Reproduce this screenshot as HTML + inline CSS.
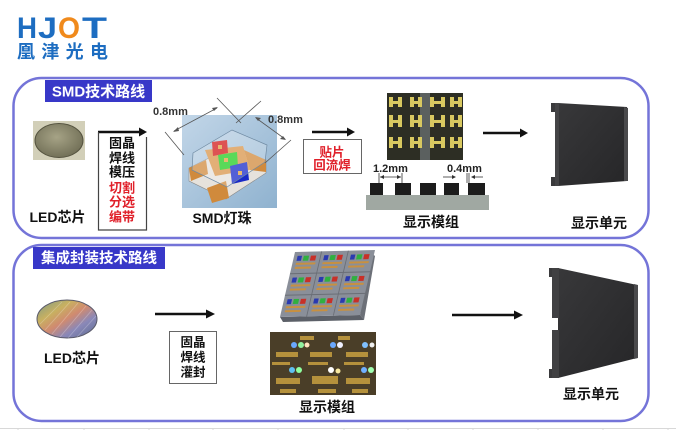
<!DOCTYPE html>
<html><head><meta charset="utf-8"><style>
html,body{margin:0;padding:0;background:#fff;width:676px;height:430px;overflow:hidden}
svg{display:block}
text{font-family:"Liberation Sans","Noto Sans CJK SC",sans-serif}
</style></head><body>
<svg width="676" height="430" viewBox="0 0 676 430" xmlns="http://www.w3.org/2000/svg">
<defs>
<linearGradient id="bg1" x1="0" y1="0" x2="1" y2="1"><stop offset="0" stop-color="#c2d6e8"/><stop offset="1" stop-color="#8fb2cf"/></linearGradient>
<radialGradient id="waf1" cx="0.45" cy="0.4" r="0.7"><stop offset="0" stop-color="#a6a386"/><stop offset="1" stop-color="#6a6850"/></radialGradient>
<linearGradient id="waf2" x1="0" y1="0" x2="1" y2="1"><stop offset="0" stop-color="#7a9a8a"/><stop offset="0.3" stop-color="#c8b060"/><stop offset="0.5" stop-color="#d08a70"/><stop offset="0.7" stop-color="#8a88b8"/><stop offset="1" stop-color="#5a6a90"/></linearGradient>
<linearGradient id="panel" x1="0" y1="0" x2="1" y2="1"><stop offset="0" stop-color="#38383a"/><stop offset="1" stop-color="#262628"/></linearGradient>
</defs>

<!-- Logo -->
<text x="17" y="38" font-size="30" font-weight="bold" fill="#1d6dc1" textLength="20" lengthAdjust="spacingAndGlyphs">H</text>
<text x="38" y="38" font-size="30" font-weight="bold" fill="#1d6dc1" textLength="19" lengthAdjust="spacingAndGlyphs">J</text>
<text x="58" y="38" font-size="30" font-weight="bold" fill="#f08a1c" textLength="22" lengthAdjust="spacingAndGlyphs">O</text>
<text x="82" y="38" font-size="30" font-weight="bold" fill="#1d6dc1" textLength="25" lengthAdjust="spacingAndGlyphs">T</text>
<text x="17" y="58" font-size="18" font-weight="bold" fill="#1d6dc1" textLength="91" lengthAdjust="spacing">凰津光电</text>

<!-- Top box -->
<rect x="13.5" y="78" width="635" height="160" rx="28" fill="none" stroke="#7474d8" stroke-width="2.5"/>
<rect x="45" y="80" width="107" height="22" fill="#3838c8"/>
<text x="98.5" y="96.5" font-size="15" font-weight="bold" fill="#fff" text-anchor="middle">SMD技术路线</text>

<!-- wafer top -->
<rect x="33" y="121" width="52" height="39" fill="#d2cfb8"/>
<ellipse cx="59" cy="140.5" rx="24" ry="17" fill="url(#waf1)" stroke="#55533f" stroke-width="1"/>
<text x="57.5" y="222" font-size="14" font-weight="bold" fill="#111" text-anchor="middle">LED芯片</text>

<!-- arrow + process box -->
<line x1="98" y1="132" x2="140" y2="132" stroke="#111" stroke-width="2.5"/>
<polygon points="139,127.5 147,132 139,136.5" fill="#111"/>
<path d="M98.5,132 V230 H146.5 V137" fill="none" stroke="#444" stroke-width="1.2"/>
<g font-size="13" font-weight="bold" text-anchor="middle">
<text x="122" y="147.5" fill="#111">固晶</text>
<text x="122" y="162.5" fill="#111">焊线</text>
<text x="122" y="176.5" fill="#111">模压</text>
<text x="122" y="192.5" fill="#e0202a">切割</text>
<text x="122" y="206.5" fill="#e0202a">分选</text>
<text x="122" y="221.5" fill="#e0202a">编带</text>
</g>

<!-- SMD bead -->
<rect x="182" y="115" width="95" height="93" fill="url(#bg1)"/>
<polygon points="189,168 229,148 266,160 266,173 226,199 189,181" fill="#e6e2dc" stroke="#8a8a8a" stroke-width="0.6"/>
<polygon points="189,168 206,160 208,174 191,181" fill="#d08a3c"/>
<polygon points="207,188 226,181 229,198 212,203" fill="#d08a3c"/>
<polygon points="244,150 266,160 266,172 250,170" fill="#d08a3c"/>
<polygon points="205,150 243,146 250,170 215,176" fill="#d8954a"/>
<polygon points="212,142 227,140 228,153 213,156" fill="#d21a1a"/>
<polygon points="218,155 237,152 238,167 220,170" fill="#22cc22"/>
<polygon points="230,166 247,162 249,180 232,184" fill="#1a2ac8"/>
<rect x="218" y="145" width="4" height="4" fill="#e0a040"/>
<rect x="224" y="158" width="4" height="4" fill="#e0a040"/>
<rect x="238" y="171" width="4" height="4" fill="#e0a040"/>
<polygon points="193,153 232,130 267,145 265,162 227,187 192,170" fill="#ffffff" fill-opacity="0.25" stroke="#6f8aa2" stroke-width="0.7"/>
<g stroke="#555" stroke-width="0.8" fill="none">
<line x1="165" y1="132" x2="184" y2="155"/>
<line x1="217" y1="98" x2="241" y2="123"/>
<line x1="261" y1="101" x2="236" y2="123"/>
<line x1="291" y1="140" x2="265" y2="163"/>
<line x1="174" y1="131" x2="217" y2="108"/>
<line x1="256" y1="118" x2="285" y2="139"/>
</g>
<polygon points="173,132 178,127 179,131" fill="#555"/>
<polygon points="218,107 212,108 214,111" fill="#555"/>
<polygon points="255,117 261,118 258,121" fill="#555"/>
<polygon points="286,140 280,139 283,136" fill="#555"/>
<text x="153" y="115" font-size="11" font-weight="bold" fill="#333">0.8mm</text>
<text x="268" y="123" font-size="11" font-weight="bold" fill="#333">0.8mm</text>
<text x="222" y="223" font-size="14" font-weight="bold" fill="#111" text-anchor="middle">SMD灯珠</text>

<!-- arrow 2 + box -->
<line x1="312" y1="132" x2="348" y2="132" stroke="#111" stroke-width="2.5"/>
<polygon points="347,127.5 355,132 347,136.5" fill="#111"/>
<rect x="303.5" y="139.5" width="58" height="34" fill="#fff" stroke="#666" stroke-width="1"/>
<text x="332" y="156.5" font-size="12.5" font-weight="bold" fill="#e0202a" text-anchor="middle">贴片</text>
<text x="332" y="169.5" font-size="12.5" font-weight="bold" fill="#e0202a" text-anchor="middle">回流焊</text>

<!-- module photo top -->
<rect x="387" y="93" width="76" height="67" fill="#2d2e24"/>
<rect x="420" y="93" width="10" height="67" fill="#8a929a" fill-opacity="0.5"/>
<g fill="#d8c860">
<path d="M389,97h4v10h-4z M398,97h4v10h-4z M389,101h13v3h-13z"/>
<path d="M410,97h4v10h-4z M418,97h4v10h-4z M410,101h12v3h-12z"/>
<path d="M430,97h4v10h-4z M441,97h4v10h-4z M430,101h15v3h-15z"/>
<path d="M450,97h4v10h-4z M458,97h4v10h-4z M450,101h12v3h-12z"/>
<path d="M389,115h4v12h-4z M398,115h4v12h-4z M389,120h13v3h-13z"/>
<path d="M410,115h4v12h-4z M418,115h4v12h-4z M410,120h12v3h-12z"/>
<path d="M430,115h4v12h-4z M441,115h4v12h-4z M430,120h15v3h-15z"/>
<path d="M450,115h4v12h-4z M458,115h4v12h-4z M450,120h12v3h-12z"/>
<path d="M389,137h4v11h-4z M398,137h4v11h-4z M389,141h13v3h-13z"/>
<path d="M410,137h4v11h-4z M418,137h4v11h-4z M410,141h12v3h-12z"/>
<path d="M430,137h4v11h-4z M441,137h4v11h-4z M430,141h15v3h-15z"/>
<path d="M450,137h4v11h-4z M458,137h4v11h-4z M450,141h12v3h-12z"/>
</g>
<text x="373" y="172" font-size="11" font-weight="bold" fill="#222">1.2mm</text>
<text x="447" y="172" font-size="11" font-weight="bold" fill="#222">0.4mm</text>
<g stroke="#333" stroke-width="0.8">
<line x1="379" y1="173" x2="379" y2="183"/><line x1="402" y1="173" x2="402" y2="183"/>
<line x1="380" y1="177" x2="401" y2="177"/>
<line x1="443" y1="177" x2="455" y2="177"/>
<line x1="467" y1="173" x2="467" y2="183"/><line x1="469" y1="173" x2="469" y2="183"/>
<line x1="472" y1="177" x2="483" y2="177"/>
</g>
<polygon points="380,177 384,175 384,179" fill="#333"/>
<polygon points="401,177 397,175 397,179" fill="#333"/>
<polygon points="456,177 452,175 452,179" fill="#333"/>
<polygon points="471,177 475,175 475,179" fill="#333"/>
<g fill="#1c1c1c">
<rect x="370" y="183" width="13" height="12"/>
<rect x="395" y="183" width="16" height="12"/>
<rect x="420" y="183" width="16" height="12"/>
<rect x="444" y="183" width="15" height="12"/>
<rect x="468" y="183" width="17" height="12"/>
</g>
<rect x="366" y="195" width="123" height="15" fill="#a0a8a2"/>
<text x="431" y="227" font-size="14" font-weight="bold" fill="#111" text-anchor="middle">显示模组</text>

<!-- arrow 3 -->
<line x1="483" y1="133" x2="521" y2="133" stroke="#111" stroke-width="2.5"/>
<polygon points="520,128.5 528,133 520,137.5" fill="#111"/>

<!-- display unit top -->
<polygon points="558,103 627,107 627,181 558,186" fill="url(#panel)"/>
<polygon points="624,107 628,108 628,181 624,181" fill="#4a4a4c"/>
<rect x="551" y="103" width="8" height="9" fill="#3a3a3c"/>
<rect x="551" y="177" width="8" height="9" fill="#3a3a3c"/>
<rect x="555" y="103" width="4" height="83" fill="#444446"/>
<text x="599" y="228" font-size="14" font-weight="bold" fill="#111" text-anchor="middle">显示单元</text>

<!-- Bottom box -->
<rect x="13.5" y="245" width="635" height="176" rx="28" fill="none" stroke="#7474d8" stroke-width="2.5"/>
<rect x="33" y="247" width="132" height="22" fill="#3838c8"/>
<text x="99" y="263" font-size="14.5" font-weight="bold" fill="#fff" text-anchor="middle">集成封装技术路线</text>

<!-- wafer bottom -->
<ellipse cx="67" cy="319" rx="30" ry="19" fill="url(#waf2)" stroke="#5a5a6a" stroke-width="1"/>
<g stroke="#ffffff" stroke-opacity="0.25" stroke-width="0.8">
<line x1="45" y1="330" x2="70" y2="302"/><line x1="52" y1="334" x2="78" y2="303"/>
<line x1="60" y1="337" x2="86" y2="306"/><line x1="68" y1="338" x2="92" y2="310"/>
<line x1="40" y1="324" x2="62" y2="302"/><line x1="77" y1="337" x2="96" y2="316"/>
</g>
<text x="72" y="363" font-size="14" font-weight="bold" fill="#111" text-anchor="middle">LED芯片</text>

<!-- arrow + box bottom -->
<line x1="155" y1="314" x2="207" y2="314" stroke="#111" stroke-width="2.5"/>
<polygon points="206,309.5 215,314 206,318.5" fill="#111"/>
<rect x="169.5" y="331.5" width="47" height="52" fill="#fff" stroke="#666" stroke-width="1"/>
<g font-size="12.5" font-weight="bold" fill="#111" text-anchor="middle">
<text x="193" y="346.5">固晶</text>
<text x="193" y="361.5">焊线</text>
<text x="193" y="376.5">灌封</text>
</g>

<!-- 3D module -->
<polygon points="370,252 375,256 364,320 360,315" fill="#6c7078"/>
<polygon points="280,317 360,315 364,320 283,322" fill="#5c6068"/>
<g transform="matrix(0.889 -0.022 -0.231 1 295 252)">
<rect x="0" y="0" width="90" height="65" fill="#8a8f99"/>
<g stroke="#6a6e76" stroke-width="1"><line x1="30" y1="0" x2="30" y2="65"/><line x1="60" y1="0" x2="60" y2="65"/><line x1="0" y1="21.7" x2="90" y2="21.7"/><line x1="0" y1="43.3" x2="90" y2="43.3"/></g>
<g id="cell">
<rect x="4" y="4" width="5" height="5" fill="#2a3ab0"/><rect x="11" y="4" width="6" height="5" fill="#30b040"/><rect x="19" y="4" width="6" height="5" fill="#c83028"/>
<rect x="4" y="11" width="22" height="2" fill="#c89040"/><rect x="4" y="15" width="18" height="2" fill="#c89040"/>
</g>
<use href="#cell" x="30"/><use href="#cell" x="60"/>
<use href="#cell" y="21.7"/><use href="#cell" x="30" y="21.7"/><use href="#cell" x="60" y="21.7"/>
<use href="#cell" y="43.3"/><use href="#cell" x="30" y="43.3"/><use href="#cell" x="60" y="43.3"/>
</g>

<!-- module photo bottom -->
<rect x="270" y="332" width="106" height="63" fill="#4a3e28"/>
<g fill="#c8a040" fill-opacity="0.85">
<rect x="276" y="352" width="22" height="5"/><rect x="310" y="352" width="22" height="5"/><rect x="346" y="352" width="22" height="5"/>
<rect x="276" y="378" width="24" height="6"/><rect x="312" y="376" width="26" height="8"/><rect x="346" y="378" width="24" height="6"/>
<rect x="280" y="389" width="16" height="4"/><rect x="318" y="389" width="18" height="4"/><rect x="352" y="389" width="16" height="4"/>
<rect x="300" y="336" width="14" height="4"/><rect x="338" y="336" width="12" height="4"/>
<rect x="272" y="362" width="18" height="3"/><rect x="308" y="362" width="20" height="3"/><rect x="344" y="362" width="20" height="3"/>
</g>
<g>
<circle cx="294" cy="345" r="3" fill="#6aa8ff"/><circle cx="301" cy="345" r="3" fill="#90f0a0"/><circle cx="307" cy="345" r="2.5" fill="#ffe0c0"/>
<circle cx="333" cy="345" r="3" fill="#6aa8ff"/><circle cx="340" cy="345" r="3" fill="#f0f0ff"/>
<circle cx="365" cy="345" r="3" fill="#80c0ff"/><circle cx="372" cy="345" r="2.5" fill="#f0f0f0"/>
<circle cx="292" cy="370" r="3" fill="#60c0f0"/><circle cx="299" cy="370" r="3" fill="#90ffa0"/>
<circle cx="331" cy="370" r="3" fill="#ffffff"/><circle cx="338" cy="371" r="2.5" fill="#f8e8a0"/>
<circle cx="364" cy="370" r="3" fill="#70b0ff"/><circle cx="371" cy="370" r="3" fill="#a0ffb0"/>
</g>
<text x="327" y="412" font-size="14" font-weight="bold" fill="#111" text-anchor="middle">显示模组</text>

<!-- arrow bottom 2 -->
<line x1="452" y1="315" x2="515" y2="315" stroke="#111" stroke-width="2.5"/>
<polygon points="514,310.5 523,315 514,319.5" fill="#111"/>

<!-- display unit bottom -->
<polygon points="558,268 637,285 637,358 558,378" fill="url(#panel)"/>
<polygon points="634,284 638,285 638,358 634,359" fill="#4a4a4c"/>
<rect x="549" y="268" width="10" height="9" fill="#3a3a3c"/>
<rect x="549" y="369" width="10" height="9" fill="#3a3a3c"/>
<rect x="552" y="268" width="7" height="50" fill="#404042"/>
<rect x="552" y="330" width="7" height="48" fill="#404042"/>
<text x="591" y="399" font-size="14" font-weight="bold" fill="#111" text-anchor="middle">显示单元</text>

<!-- bottom line -->
<line x1="0" y1="428.5" x2="676" y2="428.5" stroke="#d8d8d8" stroke-width="1"/>
<g stroke="#d8d8d8" stroke-width="1">
<line x1="18" y1="428" x2="18" y2="430"/><line x1="84" y1="428" x2="84" y2="430"/><line x1="149" y1="428" x2="149" y2="430"/>
<line x1="213" y1="428" x2="213" y2="430"/><line x1="278" y1="428" x2="278" y2="430"/><line x1="344" y1="428" x2="344" y2="430"/>
<line x1="408" y1="428" x2="408" y2="430"/><line x1="473" y1="428" x2="473" y2="430"/><line x1="538" y1="428" x2="538" y2="430"/>
<line x1="603" y1="428" x2="603" y2="430"/><line x1="668" y1="428" x2="668" y2="430"/>
</g>
</svg>
</body></html>
